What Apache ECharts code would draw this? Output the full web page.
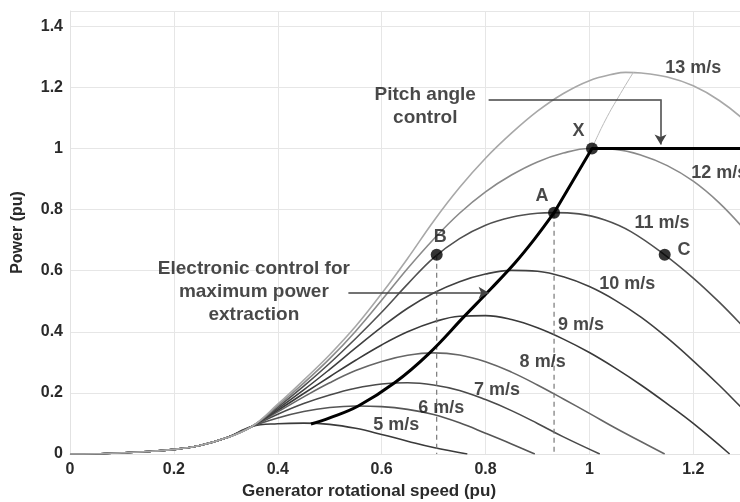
<!DOCTYPE html>
<html>
<head>
<meta charset="utf-8">
<script src="https://cdn.jsdelivr.net/npm/echarts@6/dist/echarts.min.js"></script>
<style>
    html, body { margin: 0; padding: 0; background: #fff; }
    #chart { width: 740px; height: 502px; }
</style>
</head>
<body>
<div id="chart"></div>
<script>
// shared low-speed part of every curve
const tail = [[0, 0], [0.05, 0.001], [0.1, 0.004], [0.15, 0.008], [0.2, 0.015], [0.25, 0.028], [0.3, 0.052]];

const v5 = [[0.35, 0.09], [0.4, 0.099], [0.45, 0.101], [0.5, 0.097], [0.55, 0.084], [0.6, 0.064], [0.65, 0.042], [0.7, 0.021], [0.765, 0]];
const v6 = [[0.35, 0.09], [0.4, 0.118], [0.45, 0.139], [0.5, 0.152], [0.55, 0.157], [0.6, 0.155], [0.65, 0.146], [0.7, 0.129], [0.75, 0.102], [0.8, 0.068], [0.85, 0.033], [0.895, 0]];
const v7 = [[0.35, 0.09], [0.4, 0.13], [0.45, 0.165], [0.5, 0.193], [0.55, 0.215], [0.6, 0.229], [0.65, 0.233], [0.7, 0.226], [0.75, 0.208], [0.8, 0.178], [0.85, 0.142], [0.9, 0.1], [0.95, 0.056], [1.02, 0]];
const v8 = [[0.35, 0.09], [0.4, 0.138], [0.45, 0.187], [0.5, 0.233], [0.55, 0.273], [0.6, 0.303], [0.65, 0.323], [0.7, 0.331], [0.75, 0.324], [0.8, 0.302], [0.85, 0.268], [0.9, 0.226], [0.95, 0.18], [1.0, 0.133], [1.05, 0.085], [1.1, 0.04], [1.145, 0]];
const v9 = [[0.35, 0.09], [0.4, 0.143], [0.45, 0.198], [0.5, 0.253], [0.55, 0.307], [0.6, 0.357], [0.65, 0.4], [0.7, 0.432], [0.75, 0.451], [0.8, 0.453], [0.85, 0.44], [0.9, 0.413], [0.95, 0.376], [1.0, 0.332], [1.05, 0.281], [1.1, 0.225], [1.15, 0.164], [1.2, 0.1], [1.27, 0]];
const v10 = [[0.35, 0.09], [0.4, 0.148], [0.45, 0.21], [0.5, 0.277], [0.55, 0.347], [0.6, 0.415], [0.65, 0.477], [0.7, 0.527], [0.75, 0.564], [0.8, 0.589], [0.85, 0.601], [0.9, 0.598], [0.95, 0.58], [1.0, 0.548], [1.05, 0.503], [1.1, 0.447], [1.15, 0.38], [1.2, 0.305], [1.25, 0.225], [1.3, 0.14], [1.35, 0.06], [1.39, 0]];
const v11 = [[0.35, 0.09], [0.4, 0.153], [0.45, 0.222], [0.5, 0.297], [0.55, 0.378], [0.6, 0.464], [0.65, 0.556], [0.7, 0.642], [0.75, 0.705], [0.8, 0.749], [0.85, 0.775], [0.9, 0.788], [0.93, 0.79], [0.98, 0.786], [1.03, 0.766], [1.08, 0.728], [1.145, 0.652], [1.2, 0.576], [1.25, 0.497], [1.3, 0.41], [1.35, 0.32]];
const v12 = [[0.35, 0.09], [0.4, 0.158], [0.45, 0.232], [0.5, 0.312], [0.55, 0.402], [0.6, 0.503], [0.65, 0.607], [0.7, 0.703], [0.75, 0.788], [0.8, 0.858], [0.85, 0.913], [0.9, 0.956], [0.95, 0.985], [1.0, 1.0], [1.05, 0.997], [1.1, 0.978], [1.15, 0.944], [1.2, 0.893], [1.25, 0.822], [1.3, 0.732], [1.35, 0.63]];
const v13 = [[0.35, 0.09], [0.4, 0.163], [0.45, 0.242], [0.5, 0.325], [0.55, 0.418], [0.6, 0.525], [0.65, 0.64], [0.7, 0.762], [0.75, 0.872], [0.8, 0.968], [0.85, 1.05], [0.9, 1.122], [0.95, 1.18], [1.0, 1.222], [1.05, 1.245], [1.07, 1.249], [1.1, 1.247], [1.15, 1.234], [1.2, 1.205], [1.25, 1.157], [1.3, 1.09], [1.35, 1.0]];

const speedNames = ['5 m/s', '6 m/s', '7 m/s', '8 m/s', '9 m/s', '10 m/s', '11 m/s', '12 m/s', '13 m/s'];
const speedCurves = [v5, v6, v7, v8, v9, v10, v11, v12, v13];
const speedColors = ['#3a3a3a', '#555', '#4a4a4a', '#666', '#3a3a3a', '#404040', '#505050', '#8a8a8a', '#a8a8a8'];

// maximum power tracking path (thick black)
const mppt = [[0.464, 0.098], [0.5, 0.118], [0.555, 0.157], [0.625, 0.233], [0.69, 0.327], [0.76, 0.452], [0.81, 0.54], [0.857, 0.626], [0.895, 0.705], [0.932, 0.79]];
const pitchPath = [[0.932, 0.79], [1.005, 1.0], [1.35, 1.0]];
const mpptExtension = [[1.005, 1.0], [1.03, 1.09], [1.06, 1.18], [1.085, 1.25]];

// operating points
const pointNames = ['B', 'A', 'X', 'C'];
const pointValues = [[0.706, 0.652], [0.932, 0.79], [1.005, 1.0], [1.145, 0.652]];

// annotation texts and where they sit (data coords)
const speedNotes = [
    ['13 m/s', 1.2, 1.264], ['12 m/s', 1.25, 0.921], ['11 m/s', 1.14, 0.757], ['10 m/s', 1.073, 0.557],
    ['9 m/s', 0.984, 0.423], ['8 m/s', 0.91, 0.302], ['7 m/s', 0.822, 0.21], ['6 m/s', 0.715, 0.151], ['5 m/s', 0.628, 0.095],
    ['X', 0.979, 1.056], ['A', 0.909, 0.843], ['B', 0.713, 0.711], ['C', 1.182, 0.669]
];
const blockNotes = [
    ['Pitch angle\ncontrol', 0.684, 1.138],
    ['Electronic control for\nmaximum power\nextraction', 0.354, 0.531]
];

const font = 'Liberation Sans';
const myChart = echarts.init(document.getElementById('chart'));

const series = [];
speedCurves.forEach((c, i) => {
    series.push({
        name: speedNames[i],
        type: 'line',
        data: tail.concat(c),
        smooth: 0.4,
        symbol: 'none',
        lineStyle: { color: speedColors[i], width: 1.6 },
        z: 2
    });
});

// dashed drops from B and A
series.push({
    type: 'line', symbol: 'none', z: 2,
    data: [pointValues[0], [pointValues[0][0], 0]],
    lineStyle: { color: '#777', width: 1.2, type: [5, 4] }
});
series.push({
    type: 'line', symbol: 'none', z: 2,
    data: [pointValues[1], [pointValues[1][0], 0]],
    lineStyle: { color: '#777', width: 1.2, type: [5, 4] }
});

series.push({
    type: 'line', symbol: 'none', z: 3,
    data: mpptExtension,
    smooth: true,
    lineStyle: { color: '#bbbbbb', width: 1 }
});
series.push({
    type: 'line', symbol: 'none', z: 4,
    data: mppt,
    smooth: 0.4,
    lineStyle: { color: '#000', width: 3 }
});
series.push({
    type: 'line', symbol: 'none', z: 4,
    data: pitchPath,
    lineStyle: { color: '#000', width: 3 }
});

// arrows
series.push({
    type: 'line', data: [], z: 5,
    markLine: {
        silent: true,
        animation: false,
        label: { show: false },
        lineStyle: { color: '#444', width: 1.5, type: 'solid' },
        symbolSize: [9, 10],
        data: [
            [{ coord: [0.806, 1.161], symbol: 'none' }, { coord: [1.137, 1.161], symbol: 'none' }],
            [{ coord: [1.137, 1.161], symbol: 'none' }, { coord: [1.137, 1.013], symbol: 'arrow' }],
            [{ coord: [0.536, 0.528], symbol: 'none' }, { coord: [0.806, 0.528], symbol: 'arrow' }]
        ]
    }
});

series.push({
    type: 'scatter', z: 6,
    data: pointValues,
    symbolSize: 12,
    itemStyle: { color: '#000' }
});

function noteSeries(list, size, lh) {
    return {
        type: 'scatter', z: 7,
        symbolSize: 1,
        itemStyle: { color: 'rgba(0,0,0,0)' },
        data: list.map(n => ({ name: n[0], value: [n[1], n[2]] })),
        label: {
            show: true,
            position: 'inside',
            formatter: p => p.name,
            color: '#1a1a1a',
            fontFamily: font,
            fontWeight: 'bold',
            fontSize: size,
            lineHeight: lh,
            align: 'center'
        }
    };
}
series.push(noteSeries(speedNotes, 18, 20));
series.push(noteSeries(blockNotes, 19, 23));

let option = {
    animation: false,
    grid: { left: 70, right: 0, top: 11, bottom: 48, outerBoundsMode: 'none' },
    xAxis: {
        type: 'value',
        min: 0,
        max: 1.29,
        interval: 0.2,
        name: 'Generator rotational speed (pu)',
        nameLocation: 'middle',
        nameGap: 27,
        nameTextStyle: { color: '#2a2a2a', fontFamily: font, fontWeight: 'bold', fontSize: 17, padding: [0, 72, 0, 0] },
        axisLine: { lineStyle: { color: '#e2e2e2' } },
        axisTick: { show: false },
        axisLabel: { color: '#2a2a2a', fontFamily: font, fontWeight: 'bold', fontSize: 16, margin: 8, showMaxLabel: false },
        splitLine: { show: true, lineStyle: { color: '#e6e6e6' } }
    },
    yAxis: {
        type: 'value',
        min: 0,
        max: 1.45,
        interval: 0.2,
        name: 'Power (pu)',
        nameLocation: 'middle',
        nameGap: 44,
        nameTextStyle: { color: '#2a2a2a', fontFamily: font, fontWeight: 'bold', fontSize: 16 },
        axisLine: { show: true, lineStyle: { color: '#e2e2e2' } },
        axisTick: { show: false },
        axisLabel: { color: '#2a2a2a', fontFamily: font, fontWeight: 'bold', fontSize: 16, margin: 7, showMaxLabel: false },
        splitLine: { show: true, lineStyle: { color: '#e6e6e6' } }
    },
    series: series
};

myChart.setOption(option);
</script>
</body>
</html>
